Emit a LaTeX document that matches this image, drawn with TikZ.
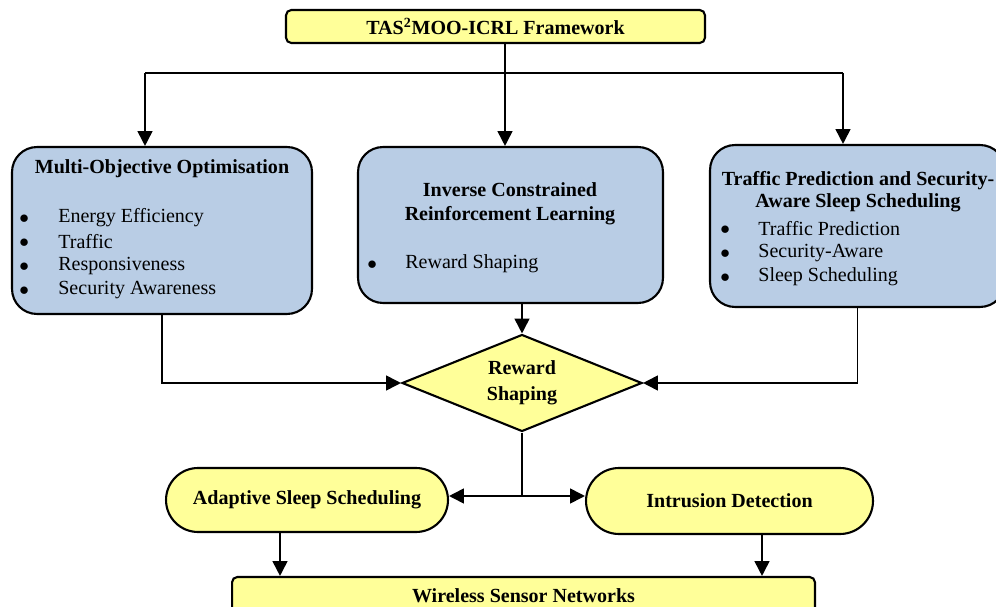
\documentclass[tikz,border=0pt]{standalone}
\usepackage{fontspec}
\setmainfont{Liberation Serif}
\usetikzlibrary{shapes.geometric,shapes.misc,arrows.meta}
\definecolor{boxblue}{RGB}{185,205,229}
\definecolor{boxyellow}{RGB}{255,255,153}

\begin{document}
\begin{tikzpicture}[x=0.02cm,y=-0.02cm,
  ybox/.style={draw,line width=1.2pt,fill=boxyellow,rounded corners=3pt,inner sep=0pt,font=\bfseries},
  bbox/.style={draw,line width=1.2pt,fill=boxblue,rounded corners=0.5cm,inner sep=0pt},
  pill/.style={draw,line width=1.2pt,fill=boxyellow,rounded rectangle,inner sep=0pt,font=\bfseries},
  arr/.style={line width=1pt,-{Triangle[length=8.5pt,width=8.5pt]}},
  lin/.style={line width=1pt},
  item/.style={anchor=west,inner sep=0pt}]
\fontsize{11.4}{13.6}\selectfont
\path[use as bounding box,clip] (0,0) rectangle (996,607);

% framework title
\node[ybox,minimum width=8.38cm,minimum height=0.66cm] (top) at (495.5,26.5) {TAS\textsuperscript{2}MOO-ICRL Framework};

% the three blue blocks
\node[bbox,minimum width=6cm,minimum height=3.34cm] (moo) at (162,230.5) {};
\node[font=\bfseries] (mootitle) at (162,169) {Multi-Objective Optimisation};
\foreach \txt [count=\i] in {Energy Efficiency,Traffic,Responsiveness,Security Awareness}{
  \node[item] (moob\i) at (19,{219+24*(\i-1)}) {$\bullet$};
  \node[item] (moo\i) at (58,{218+24*(\i-1)}) {\txt};
}

\node[bbox,minimum width=6.1cm,minimum height=3.12cm] (icrl) at (510.5,225) {};
\node[font=\bfseries,align=center] (icrltitle) at (510,204) {Inverse Constrained\\Reinforcement Learning};
\node[item] (icrlb) at (367,265) {$\bullet$};
\node[item] (icrl1) at (405,264) {Reward Shaping};

\node[bbox,minimum width=5.9cm,minimum height=3.24cm] (tpss) at (857.5,226) {};
\node[font=\bfseries,align=center] (tpsstitle) at (858,192) {Traffic Prediction and Security-\\[-1pt]Aware Sleep Scheduling};
\foreach \txt [count=\i] in {Traffic Prediction,Security-Aware,Sleep Scheduling}{
  \node[item] (tpssb\i) at (720,{230+24*(\i-1)}) {$\bullet$};
  \node[item] (tpss\i) at (758,{229+24*(\i-1)}) {\txt};
}

% decision and outputs
\node[diamond,draw,line width=1.2pt,fill=boxyellow,aspect=2.5,inner sep=0pt,
  minimum width=4.8cm,minimum height=1.94cm,font=\bfseries,align=center] (rs) at (522,383) {\raisebox{-2pt}{Reward}\\[1pt]\raisebox{-2pt}{Shaping}};

\node[pill,minimum width=5.64cm,minimum height=1.28cm] (ass) at (307,500) {Adaptive Sleep Scheduling};
\node[pill,minimum width=5.74cm,minimum height=1.32cm] (ids) at (729.5,501) {Intrusion Detection};
\node[ybox,minimum width=11.66cm,minimum height=0.76cm] (wsn) at (523.5,596) {Wireless Sensor Networks};

% connectors
\coordinate (split) at (505,73);
\coordinate (lsplit) at (145,73);
\coordinate (rsplit) at (843,73);
\coordinate (fork) at (522,496);

\draw[lin] (lsplit) -- (rsplit);
\draw[arr] (top.south -| split) -- (split |- icrl.north);
\draw[arr] (lsplit) -- (lsplit |- moo.north);
\draw[arr] (rsplit) -- (rsplit |- tpss.north);

\draw[arr] (rs.north |- icrl.south) -- (rs.north);
\draw[arr] (moo.south) |- (rs.west);
\draw[arr] (tpss.south) |- (rs.east);

\draw[lin] (rs.south) -- (fork);
\draw[arr] (fork) -- (fork -| ass.east);
\draw[arr] (fork) -- (fork -| ids.west);

\draw[arr] ([xshift=-0.54cm]ass.south) -- ([xshift=-0.54cm]ass.south |- wsn.north);
\draw[arr] ([xshift=0.65cm]ids.south) -- ([xshift=0.65cm]ids.south |- wsn.north);
\end{tikzpicture}
\end{document}
